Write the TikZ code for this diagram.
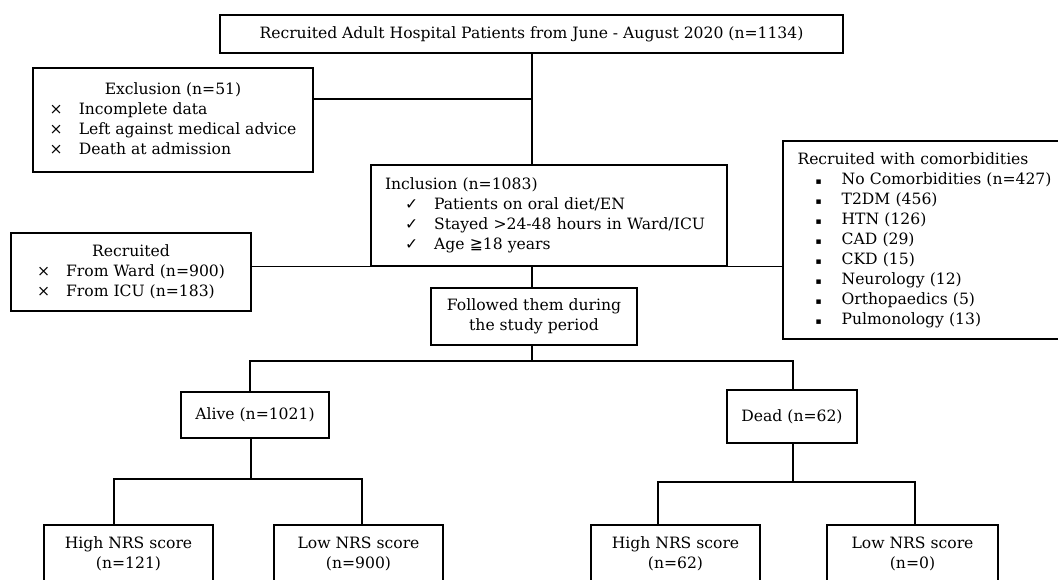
\documentclass[tikz,border=0pt]{standalone}
\usepackage{fontspec}
\setmainfont{DejaVu Serif}
\newfontfamily\symf{DejaVu Sans}
\begin{document}
\begin{tikzpicture}[x=1pt,y=-1pt,
  every node/.style={font=\fontsize{15.6}{20}\selectfont},
  box/.style={draw, line width=1.3pt, inner sep=0pt},
  conn/.style={line width=1.3pt}]
\useasboundingbox (0,0) rectangle (1058,579);
\clip (0,0) rectangle (1058,579);
\fill[white] (0,0) rectangle (1058,579);

\node[box, minimum width=623pt, minimum height=38pt] (top) at (531.5,34)
  {Recruited Adult Hospital Patients from June - August 2020 (n=1134)};

\node[box, minimum width=280pt, minimum height=104pt] (excl) at (173,120)
  {\begin{tabular}{@{}l@{\hspace{16pt}}l@{}}
   \multicolumn{2}{c}{Exclusion (n=51)}\\
   × & Incomplete data\\
   × & Left against medical advice\\
   × & Death at admission
   \end{tabular}};

\node[box, text width=328pt, inner xsep=14pt, minimum height=101pt, align=left] (incl) at (549,215.5)
  {\begin{tabular}{@{\hspace{20pt}}l@{\hspace{16pt}}l@{}}
   \multicolumn{2}{@{}l@{}}{Inclusion (n=1083)}\\
   {\symf ✓} & Patients on oral diet/EN\\
   {\symf ✓} & Stayed >24-48 hours in Ward/ICU\\
   {\symf ✓} & Age {\symf ≧}18 years
   \end{tabular}};

\node[box, text width=253pt, inner xsep=14.5pt, minimum height=198pt, align=left] (comorb) at (924,240)
  {\begin{tabular}{@{\hspace{18pt}}l@{\hspace{20pt}}l@{}}
   \multicolumn{2}{@{}l@{}}{Recruited with comorbidities}\\
   {\symf\small ▪} & No Comorbidities (n=427)\\
   {\symf\small ▪} & T2DM (456)\\
   {\symf\small ▪} & HTN (126)\\
   {\symf\small ▪} & CAD (29)\\
   {\symf\small ▪} & CKD (15)\\
   {\symf\small ▪} & Neurology (12)\\
   {\symf\small ▪} & Orthopaedics (5)\\
   {\symf\small ▪} & Pulmonology (13)
   \end{tabular}};

\node[box, minimum width=240pt, minimum height=78pt] (recr) at (131,272)
  {\begin{tabular}{@{}l@{\hspace{16pt}}l@{}}
   \multicolumn{2}{c}{Recruited}\\
   × & From Ward (n=900)\\
   × & From ICU (n=183)
   \end{tabular}};

\node[box, minimum width=206pt, minimum height=57pt, align=center] (foll) at (534,316.5)
  {Followed them during\\the study period};

\node[box, minimum width=148pt, minimum height=46pt] (alive) at (255,415) {Alive (n=1021)};
\node[box, minimum width=130pt, minimum height=53pt] (dead) at (792,416.5) {Dead (n=62)};

\node[box, minimum width=169pt, minimum height=57pt, align=center] (hA) at (128.5,553.5) {High NRS score\\(n=121)};
\node[box, minimum width=169pt, minimum height=57pt, align=center] (lA) at (358.5,553.5) {Low NRS score\\(n=900)};
\node[box, minimum width=169pt, minimum height=57pt, align=center] (hD) at (675.5,553.5) {High NRS score\\(n=62)};
\node[box, minimum width=171pt, minimum height=57pt, align=center] (lD) at (912.5,553.5) {Low NRS score\\(n=0)};

% junction coordinates
\coordinate (spine) at (532,0);
\coordinate (jx) at (532,99);
\coordinate (jf) at (532,361);
\coordinate (jAl) at (250,361);
\coordinate (jDe) at (793,361);
\coordinate (jA) at (251,479);
\coordinate (jAh) at (114,479);
\coordinate (jAl2) at (362,479);
\coordinate (jD) at (793,482);
\coordinate (jDh) at (658,482);
\coordinate (jDl) at (915,482);

\draw[conn] (spine |- top.south) -- (spine |- incl.north);
\draw[conn] (excl.east |- jx) -- (jx);
\draw[conn] (recr.east |- incl.south) -- (comorb.west |- incl.south);
\draw[conn] (spine |- incl.south) -- (spine |- foll.north);
\draw[conn] (spine |- foll.south) -- (jf);
\draw[conn] (jAl |- alive.north) -- (jAl) -- (jDe) -- (jDe |- dead.north);
\draw[conn] (jA |- alive.south) -- (jA);
\draw[conn] (jAh |- hA.north) -- (jAh) -- (jAl2) -- (jAl2 |- lA.north);
\draw[conn] (jD |- dead.south) -- (jD);
\draw[conn] (jDh |- hD.north) -- (jDh) -- (jDl) -- (jDl |- lD.north);
\end{tikzpicture}
\end{document}
